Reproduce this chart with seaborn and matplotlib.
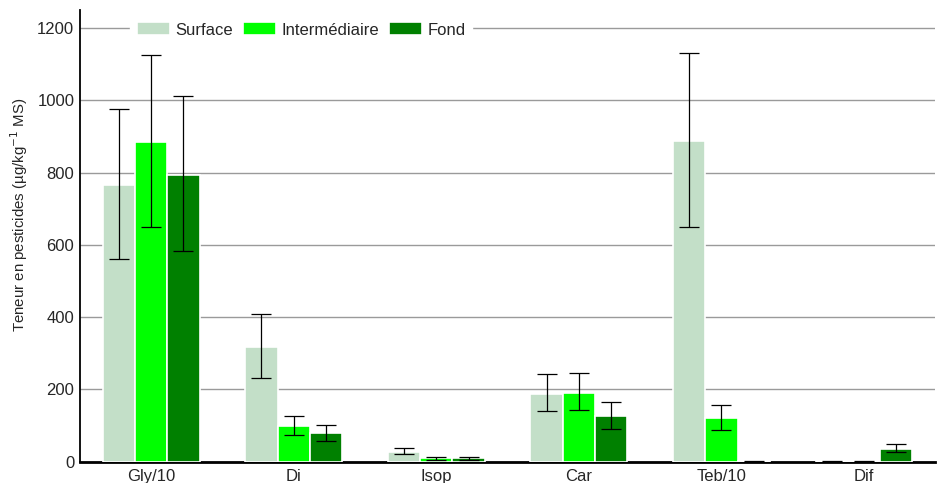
import numpy as np
import pandas as pd
import matplotlib
matplotlib.use("Agg")
import matplotlib.pyplot as plt
import seaborn as sns

categories = ["Gly/10", "Di", "Isop", "Car", "Teb/10", "Dif"]
series = ["Surface", "Intermédiaire", "Fond"]

surface = [765, 318, 28, 188, 887, 1]
intermediaire = [885, 98, 9, 190, 120, 1]
fond = [795, 79, 10, 127, 1, 35]

# error bar bounds (low, high)
surface_lo = [562, 233, 22, 140, 650, 0]
surface_hi = [975, 408, 38, 242, 1130, 2]
inter_lo = [650, 75, 6, 143, 88, 0]
inter_hi = [1125, 128, 13, 245, 157, 2]
fond_lo = [583, 58, 6, 90, 0, 28]
fond_hi = [1012, 103, 13, 165, 2, 48]

colors = ["#c3dfc8", "#00ff00", "#008000"]

values = [surface, intermediaire, fond]
lows = [surface_lo, inter_lo, fond_lo]
highs = [surface_hi, inter_hi, fond_hi]

df = pd.DataFrame({
    "cat": np.tile(categories, 3),
    "serie": np.repeat(series, len(categories)),
    "val": np.concatenate(values),
})

sns.set_style("white")
plt.rcParams["font.family"] = ["Liberation Sans", "DejaVu Sans"]

fig = plt.figure(figsize=(9.4, 4.83), dpi=100)
ax = fig.add_axes([0.085, 0.044, 0.91, 0.935])

sns.barplot(data=df, x="cat", y="val", hue="serie", palette=colors,
            saturation=1, width=0.68, edgecolor="white", linewidth=1.2,
            errorbar=None, ax=ax, zorder=3)

for cont, v, lo, hi in zip(ax.containers, values, lows, highs):
    for p, val, l, h in zip(cont.patches, v, lo, hi):
        xc = p.get_x() + p.get_width() / 2
        ax.errorbar(xc, val, yerr=[[val - l], [h - val]], fmt="none",
                    ecolor="black", elinewidth=0.9, capsize=7,
                    capthick=0.9, zorder=4)

ax.set_ylim(0, 1250)
ax.set_xlim(-0.5, 5.5)
ax.set_yticks(range(0, 1201, 200))
ax.yaxis.grid(True, color="#9a9a9a", linewidth=1)
ax.set_axisbelow(True)
ax.set_xlabel("")
ax.set_ylabel("Teneur en pesticides (µg/kg$^{-1}$ MS)", fontsize=10.8)
ax.yaxis.set_label_coords(-0.058, 0.546)
ax.tick_params(axis="both", labelsize=12, length=0)
ax.tick_params(axis="x", pad=5)
ax.tick_params(axis="y", pad=4)

for s in ["top", "right"]:
    ax.spines[s].set_visible(False)
ax.spines["left"].set_color("black")
ax.spines["left"].set_linewidth(1.3)
ax.spines["bottom"].set_color("black")
ax.spines["bottom"].set_linewidth(2)

leg = ax.legend(loc="upper left", bbox_to_anchor=(0.055, 0.995), ncol=3,
                frameon=True, fontsize=12, handlelength=2.0, handleheight=0.8,
                columnspacing=0.6, handletextpad=0.3, borderaxespad=0.2)
leg.get_frame().set_edgecolor("white")
leg.get_frame().set_facecolor("white")
leg.get_frame().set_alpha(1)

fig.savefig("out.png", dpi=100)
